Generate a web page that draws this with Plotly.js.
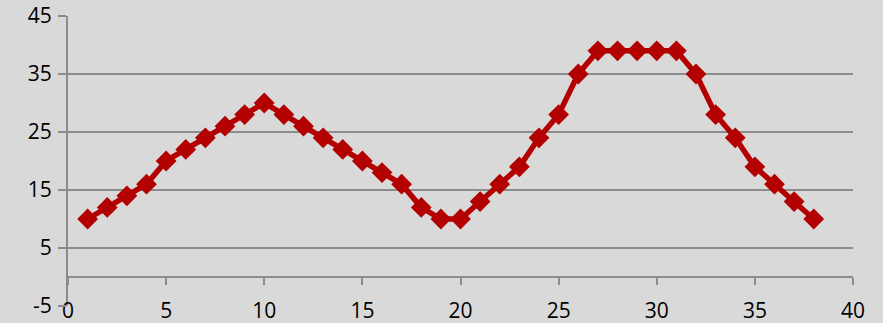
<!DOCTYPE html>
<html>
<head>
<meta charset="utf-8">
<script src="https://cdn.plot.ly/plotly-3.0.1.min.js"></script>
<style>
  html, body { margin: 0; padding: 0; background: #d9d9d9; }
  #chart { width: 883px; height: 323px; }
</style>
</head>
<body>
<div id="chart"></div>
<script>
// Series values
const xValues = [1, 2, 3, 4, 5, 6, 7, 8, 9, 10, 11, 12, 13, 14, 15, 16, 17, 18, 19, 20,
                 21, 22, 23, 24, 25, 26, 27, 28, 29, 30, 31, 32, 33, 34, 35, 36, 37, 38];
const yValues = [10, 12, 14, 16, 20, 22, 24, 26, 28, 30, 28, 26, 24, 22, 20, 18, 16, 12, 10, 10,
                 13, 16, 19, 24, 28, 35, 39, 39, 39, 39, 39, 35, 28, 24, 19, 16, 13, 10];

// Tick labels
const xTicks = [0, 5, 10, 15, 20, 25, 30, 35, 40];
const yTicks = [-5, 5, 15, 25, 35, 45];

const red = '#b30000';
const grid = '#8c8c8c';
const font = { family: 'Open Sans, Liberation Sans, sans-serif', size: 21, color: '#000' };

const trace = {
  x: xValues,
  y: yValues,
  type: 'scatter',
  mode: 'lines+markers',
  line: { color: red, width: 5.5 },
  marker: { symbol: 'diamond', size: 16, color: red },
  hoverinfo: 'x+y'
};

// Invisible companion trace so the zero-level axis is drawn
const zeroAxisTrace = {
  x: [0, 40], y: [0, 0], xaxis: 'x2', yaxis: 'y',
  mode: 'none', showlegend: false, hoverinfo: 'skip'
};

const layout = {
  width: 883,
  height: 323,
  margin: { l: 68, r: 30, t: 16, b: 17 },
  paper_bgcolor: '#d9d9d9',
  plot_bgcolor: '#d9d9d9',
  showlegend: false,
  font: font,
  xaxis: {
    range: [0, 40],
    tickvals: xTicks,
    ticktext: xTicks.map(String),
    showgrid: false,
    zeroline: false,
    showline: false,
    ticks: '',
    anchor: 'free',
    position: 0.036,
    ticklabelstandoff: 0,
    tickfont: font
  },
  xaxis2: {
    range: [0, 40],
    overlaying: 'x',
    tickvals: xTicks,
    showticklabels: false,
    showgrid: false,
    zeroline: false,
    showline: true,
    linecolor: grid,
    linewidth: 2,
    ticks: 'outside',
    ticklen: 7,
    tickwidth: 2,
    tickcolor: grid,
    anchor: 'free',
    position: 0.1
  },
  yaxis: {
    range: [-5, 45],
    tickvals: yTicks,
    ticktext: yTicks.map(String),
    showgrid: true,
    gridcolor: grid,
    gridwidth: 2,
    zeroline: false,
    showline: true,
    linecolor: grid,
    linewidth: 2,
    ticks: 'outside',
    ticklen: 8,
    tickwidth: 2,
    tickcolor: grid,
    ticklabelstandoff: 2,
    tickfont: font
  }
};

Plotly.newPlot('chart', [trace, zeroAxisTrace], layout, { displayModeBar: false, staticPlot: true });
</script>
</body>
</html>
